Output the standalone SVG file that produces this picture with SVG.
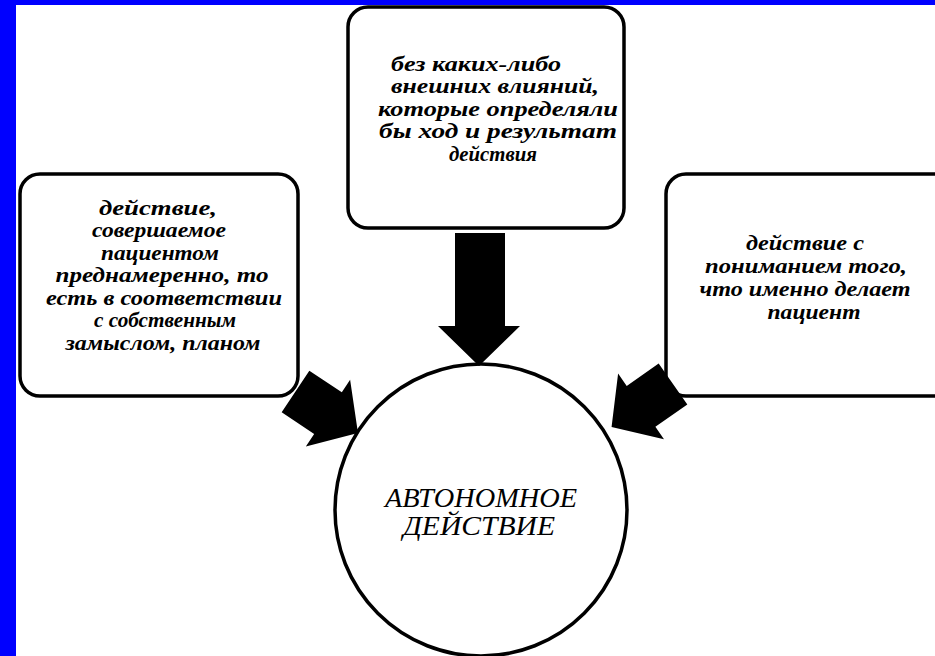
<svg xmlns="http://www.w3.org/2000/svg" width="935" height="656" viewBox="0 0 935 656">
<style>
.box{fill:#fff;stroke:#000;stroke-width:3.5}
.t{font-family:"Liberation Serif","Times New Roman",serif;font-style:italic;font-weight:bold;font-size:20px;fill:#000;text-anchor:middle}
.c{font-family:"Liberation Serif","Times New Roman",serif;font-style:italic;font-size:27px;fill:#000;text-anchor:middle}
</style>
<defs>
<polygon id="arr" points="0,-25 39,-25 39,-40 75,0 39,40 39,25 0,25"/>
</defs>
<rect x="0" y="0" width="935" height="656" fill="#fff"/>
<rect x="0" y="0" width="935" height="5" fill="#0000ff"/>
<rect x="0" y="0" width="16" height="656" fill="#0000ff"/>
<g id="node-top">
<rect class="box" x="348" y="7" width="276" height="221" rx="20"/>
<text class="t" x="476" y="71" textLength="170" lengthAdjust="spacingAndGlyphs">без каких-либо</text>
<text class="t" x="495" y="93" textLength="208" lengthAdjust="spacingAndGlyphs">внешних влияний,</text>
<text class="t" x="498" y="116" textLength="240" lengthAdjust="spacingAndGlyphs">которые определяли</text>
<text class="t" x="498" y="138" textLength="238" lengthAdjust="spacingAndGlyphs">бы ход и результат</text>
<text class="t" x="493" y="161" textLength="88" lengthAdjust="spacingAndGlyphs">действия</text>
</g>
<g id="node-left">
<rect class="box" x="20" y="174" width="278" height="222" rx="20"/>
<text class="t" x="158" y="215" textLength="118" lengthAdjust="spacingAndGlyphs">действие,</text>
<text class="t" x="159" y="237" textLength="134" lengthAdjust="spacingAndGlyphs">совершаемое</text>
<text class="t" x="160" y="260" textLength="118" lengthAdjust="spacingAndGlyphs">пациентом</text>
<text class="t" x="162" y="282" textLength="213" lengthAdjust="spacingAndGlyphs">преднамеренно, то</text>
<text class="t" x="164" y="305" textLength="236" lengthAdjust="spacingAndGlyphs">есть в соответствии</text>
<text class="t" x="165" y="327" textLength="142" lengthAdjust="spacingAndGlyphs">с собственным</text>
<text class="t" x="163" y="350" textLength="195" lengthAdjust="spacingAndGlyphs">замыслом, планом</text>
</g>
<g id="node-right">
<rect class="box" x="666" y="174" width="290" height="222" rx="20"/>
<text class="t" x="805" y="250" textLength="118" lengthAdjust="spacingAndGlyphs">действие с</text>
<text class="t" x="806" y="273" textLength="202" lengthAdjust="spacingAndGlyphs">пониманием того,</text>
<text class="t" x="805" y="296" textLength="211" lengthAdjust="spacingAndGlyphs">что именно делает</text>
<text class="t" x="814" y="319" textLength="93" lengthAdjust="spacingAndGlyphs">пациент</text>
</g>
<g id="node-center">
<circle cx="481" cy="510" r="146" fill="#fff" stroke="#000" stroke-width="3.5"/>
<text class="c" x="481" y="507" textLength="192" lengthAdjust="spacingAndGlyphs">АВТОНОМНОЕ</text>
<text class="c" x="479" y="535" textLength="152" lengthAdjust="spacingAndGlyphs">ДЕЙСТВИЕ</text>
</g>
<g id="connectors" fill="#000">
<polygon points="455,233 505,233 505,326 520,326 479,366 438,326 455,326"/>
<use href="#arr" transform="translate(295.5,391.5) rotate(33.6)"/>
<use href="#arr" transform="translate(673,384) rotate(145)"/>
</g>
</svg>
